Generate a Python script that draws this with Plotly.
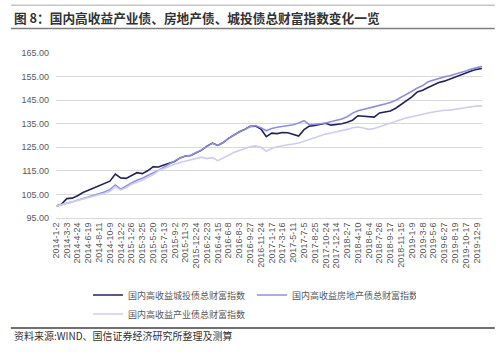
import plotly.graph_objects as go

# ---- data ----
dates = [
    "2014-1-2", "2014-1-29", "2014-3-3", "2014-3-27", "2014-4-24", "2014-5-21", "2014-6-19", "2014-7-15",
    "2014-8-11", "2014-9-9", "2014-10-9", "2014-11-4", "2014-12-2", "2014-12-26", "2015-1-26", "2015-2-27",
    "2015-3-25", "2015-4-22", "2015-5-20", "2015-6-16", "2015-7-13", "2015-8-6", "2015-9-2", "2015-10-8",
    "2015-11-3", "2015-11-27", "2015-12-24", "2016-1-27", "2016-2-23", "2016-3-21", "2016-4-15", "2016-5-12",
    "2016-6-8", "2016-7-6", "2016-8-3", "2016-8-30", "2016-9-27", "2016-10-27", "2016-11-24", "2016-12-20",
    "2017-1-17", "2017-2-16", "2017-3-16", "2017-4-13", "2017-5-11", "2017-6-8", "2017-7-5", "2017-7-31",
    "2017-8-25", "2017-9-22", "2017-10-24", "2017-11-17", "2017-12-14", "2018-1-11", "2018-2-7", "2018-3-12",
    "2018-4-10", "2018-5-8", "2018-6-4", "2018-6-29", "2018-7-26", "2018-8-21", "2018-9-17", "2018-10-17",
    "2018-11-15", "2018-12-12", "2019-1-9", "2019-2-12", "2019-3-8", "2019-4-4", "2019-5-6", "2019-5-31",
    "2019-6-27", "2019-7-23", "2019-8-19", "2019-9-17", "2019-10-17", "2019-11-12", "2019-12-9", "2019-12-31",
]

tick_labels = [
    "2014-1-2", "2014-3-3", "2014-4-24", "2014-6-19", "2014-8-11", "2014-10-9", "2014-12-2", "2015-1-26",
    "2015-3-25", "2015-5-20", "2015-7-13", "2015-9-2", "2015-11-3", "2015-12-24", "2016-2-23", "2016-4-15",
    "2016-6-8", "2016-8-3", "2016-9-27", "2016-11-24", "2017-1-17", "2017-3-16", "2017-5-11", "2017-7-5",
    "2017-8-25", "2017-10-24", "2017-12-14", "2018-2-7", "2018-4-10", "2018-6-4", "2018-7-26", "2018-9-17",
    "2018-11-15", "2019-1-9", "2019-3-8", "2019-5-6", "2019-6-27", "2019-8-19", "2019-10-17", "2019-12-9",
]

chengtou = [
    100.0, 100.8, 103.2, 103.4, 104.4, 105.8, 106.7, 107.6, 108.5, 109.4,
    110.6, 113.6, 112.0, 111.8, 113.0, 114.2, 113.8, 115.0, 116.7, 116.6,
    117.5, 118.3, 119.0, 120.5, 121.3, 121.5, 122.7, 123.8, 125.5, 126.8,
    125.8, 127.0, 128.8, 130.3, 131.6, 132.6, 133.9, 134.0, 132.8, 129.5,
    131.0, 130.8, 131.3, 131.2, 130.6, 129.8, 132.5, 134.0, 134.3, 134.8,
    135.2, 134.4, 134.6, 135.0, 135.6, 136.5, 138.4, 138.3, 137.9, 137.8,
    139.6, 140.1, 140.4, 141.6, 143.2, 144.5, 146.4, 148.5, 149.2, 150.4,
    151.6, 152.5, 153.1, 154.0, 154.7, 155.6, 156.4, 157.4, 158.1, 158.5,
]

fangdichan = [
    100.0, 100.5, 101.3, 101.8, 102.5, 103.2, 103.8, 104.5, 105.2, 106.0,
    107.0, 109.0, 107.2, 108.6, 109.8, 111.0, 111.8, 113.0, 114.0, 115.2,
    116.5, 117.8, 119.2, 120.5, 121.3, 121.6, 122.8, 123.9, 125.4, 126.7,
    125.8, 127.0, 128.8, 130.2, 131.5, 132.5, 133.8, 134.2, 133.3, 132.0,
    133.0, 133.5, 133.8, 134.3, 134.6, 135.3, 136.3, 134.6, 134.7, 135.0,
    135.3, 135.8, 136.3, 137.0, 138.0, 139.5, 140.5, 141.0, 141.6, 142.2,
    142.8, 143.4, 144.0, 145.0, 146.2, 147.5, 148.8, 150.2, 151.2, 152.8,
    153.5, 154.5, 154.9, 155.4, 156.0, 156.8, 157.4, 158.2, 158.9, 159.4,
]

chanye = [
    100.0, 100.6, 101.2, 101.7, 102.3, 103.0, 103.5, 104.2, 104.8, 105.5,
    106.3, 108.3, 106.8, 107.8, 109.3, 110.0, 111.0, 112.2, 113.3, 115.0,
    116.0, 117.0, 117.8, 118.5, 119.0, 119.6, 120.3, 120.8, 120.2, 120.6,
    119.3, 120.5, 121.5, 122.8, 123.6, 124.4, 125.2, 125.6, 125.0, 123.3,
    124.5, 125.2, 125.8, 126.1, 126.4, 126.8, 127.6, 128.4, 129.2, 130.0,
    130.6, 131.1, 131.5, 131.9, 132.6, 133.3, 133.6, 133.2, 132.6, 133.0,
    133.8, 134.5, 135.2, 136.2, 137.0, 137.5, 138.0, 138.6, 139.1, 139.6,
    140.0, 140.5, 140.7, 140.8, 141.2, 141.6, 142.0, 142.3, 142.5, 142.6,
]

series_names = ["国内高收益城投债总财富指数", "国内高收益房地产债总财富指数", "国内高收益产业债总财富指数"]
series_values = [chengtou, fangdichan, chanye]
series_colors = ["#23235E", "#8F8FDF", "#CDCDF0"]

title_text = "<b>图 8：国内高收益产业债、房地产债、城投债总财富指数变化一览</b>"
source_text = "资料来源:WIND、国信证券经济研究所整理及测算"

fig = go.Figure()
for name, vals, col in zip(series_names, series_values, series_colors):
    fig.add_trace(go.Scatter(
        x=dates, y=vals, name=name, mode="lines",
        line=dict(color=col, width=1.6),
    ))

fig.update_layout(
    width=500, height=352,
    margin=dict(l=56, r=18, t=53, b=130),
    paper_bgcolor="white", plot_bgcolor="white",
    font=dict(family="Liberation Sans, Arial, sans-serif", color="#595959", size=9),
    showlegend=True,
    legend=dict(
        orientation="h", xref="container", yref="container",
        x=0.176, y=0.203, xanchor="left", yanchor="top",
        entrywidth=119, entrywidthmode="pixels",
        font=dict(family="Noto Sans CJK SC", size=9, color="#595959"),
        itemwidth=30, tracegroupgap=0,
        bgcolor="rgba(0,0,0,0)",
    ),
)

fig.update_xaxes(
    type="category", range=[0, len(dates) - 1],
    tickmode="array", tickvals=tick_labels, ticktext=tick_labels,
    tickangle=-90, showgrid=False, ticks="",
    showline=True, linecolor="#D9D9D9", linewidth=1,
    tickfont=dict(size=9, color="#595959"),
)
fig.update_yaxes(
    range=[95, 165.05], tick0=95, dtick=10, tickformat=".2f",
    showgrid=True, gridcolor="#D9D9D9", gridwidth=1,
    zeroline=False, ticks="", ticklabelstandoff=6,
    tickfont=dict(size=9, color="#595959"),
)

# header / footer decorations
fig.add_shape(type="line", xref="paper", yref="paper", x0=-0.106, x1=1.03, y0=1.29, y1=1.29,
              line=dict(color="#A6A6A6", width=1))
fig.add_shape(type="line", xref="paper", yref="paper", x0=-0.106, x1=1.03, y0=1.149, y1=1.149,
              line=dict(color="#7F7F7F", width=1.5))
fig.add_annotation(text=title_text, xref="paper", yref="paper", x=-0.103, y=1.215,
                   xanchor="left", yanchor="middle", showarrow=False,
                   font=dict(family="Noto Sans CJK SC", size=12.7, color="#333333"))
fig.add_shape(type="line", xref="paper", yref="paper", x0=-0.106, x1=1.03, y0=-0.668, y1=-0.668,
              line=dict(color="#404040", width=1.5))
fig.add_annotation(text=source_text, xref="paper", yref="paper", x=-0.103, y=-0.715,
                   xanchor="left", yanchor="middle", showarrow=False,
                   font=dict(family="Noto Sans CJK SC", size=10, color="#333333"))

fig.write_html("out.html")
